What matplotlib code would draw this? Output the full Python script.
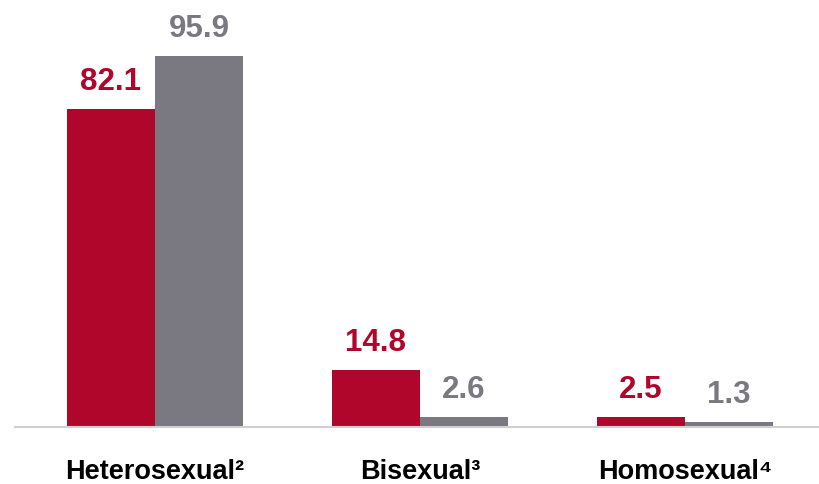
import numpy as np
import matplotlib.pyplot as plt

categories = ['Heterosexual²', 'Bisexual³', 'Homosexual⁴']
series_a = [82.1, 14.8, 2.5]
series_b = [95.9, 2.6, 1.3]

red = '#B0062C'
grey = '#7A7880'
fam = ['Liberation Sans', 'Roboto', 'Noto Sans', 'DejaVu Sans']

fig = plt.figure(figsize=(8.2, 4.85), dpi=100)
ax = fig.add_axes([15 / 820, 57 / 485, 805 / 820, 428 / 485])

x = np.arange(len(categories))
w = 88 / 265
bars_a = ax.bar(x - w / 2, series_a, width=w, color=red)
bars_b = ax.bar(x + w / 2, series_b, width=w, color=grey)

for bars, vals, c in [(bars_a, series_a, red), (bars_b, series_b, grey)]:
    for b, v in zip(bars, vals):
        ax.annotate(f'{v:.1f}', (b.get_x() + b.get_width() / 2, v),
                    xytext=(0, 14.4), textcoords='offset points',
                    ha='center', va='baseline', color=c,
                    fontsize=22.5, fontweight='bold', family=fam)

ax.set_xlim(-140 / 265, 665 / 265)
ax.set_ylim(0, 428 / 3.87)

ax.set_xticks(x)
ax.set_xticklabels(categories, fontsize=19.5, fontweight='bold', family=fam)
ax.tick_params(axis='x', length=0, pad=22)
ax.set_yticks([])

for s in ['top', 'right', 'left']:
    ax.spines[s].set_visible(False)
ax.spines['bottom'].set_color('#D0D0D0')
ax.spines['bottom'].set_linewidth(1.5)

fig.savefig('out.png', dpi=100)
